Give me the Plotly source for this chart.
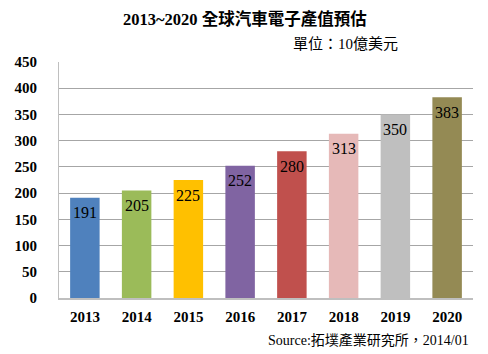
import plotly.graph_objects as go

years = ["2013", "2014", "2015", "2016", "2017", "2018", "2019", "2020"]
values = [191, 205, 225, 252, 280, 313, 350, 383]
colors = ["#4F81BD", "#9BBB59", "#FFC000", "#8064A2", "#C0504D", "#E6B9B8", "#BFBFBF", "#948A54"]
yticks = [0, 50, 100, 150, 200, 250, 300, 350, 400, 450]

serif = "Liberation Serif, Times New Roman, Noto Sans CJK TC, serif"

fig = go.Figure()
fig.add_trace(go.Bar(
    x=years, y=values,
    marker=dict(color=colors, line=dict(width=0)),
    width=0.57,
    cliponaxis=False,
))

for i, v in enumerate(values):
    fig.add_annotation(x=i, y=v, xref="x", yref="y", text=str(v), showarrow=False,
                       yanchor="middle", xanchor="center", yshift=-15,
                       font=dict(family=serif, size=16, color="black"))

fig.update_layout(
    width=488, height=354,
    margin=dict(l=59, r=15, t=62, b=56),
    paper_bgcolor="white",
    plot_bgcolor="white",
    showlegend=False,
    xaxis=dict(
        type="category",
        categoryorder="array", categoryarray=years,
        range=[-0.5, len(years) - 0.5],
        showgrid=False,
        showline=True, linecolor="#BFBFBF", linewidth=2,
        tickfont=dict(family=serif, size=15, color="black", weight="bold"),
        ticks="", ticklabelstandoff=4,
    ),
    yaxis=dict(
        range=[0, 450],
        tickvals=yticks,
        showgrid=True, gridcolor="#A6A6A6", gridwidth=1,
        showline=True, linecolor="#BFBFBF", linewidth=1,
        zeroline=False,
        tickfont=dict(family=serif, size=15, color="black", weight="bold"),
        ticks="", ticklabelstandoff=18,
    ),
)

pw = 488 - 59 - 15
ph = 354 - 62 - 56
def px(xp):
    return (xp - 59) / pw
def py(yp):
    return (354 - 56 - yp) / ph

fig.add_annotation(text="<b>2013~2020 全球汽車電子產值預估</b>", x=px(245), y=py(19),
                   xref="paper", yref="paper", showarrow=False, xanchor="center", yanchor="middle",
                   font=dict(family=serif, size=16.5, color="black"))
fig.add_annotation(text="單位：10億美元", x=px(400), y=py(44),
                   xref="paper", yref="paper", showarrow=False, xanchor="right", yanchor="middle",
                   font=dict(family=serif, size=15, color="black"))
fig.add_annotation(text="Source:拓墣產業研究所，2014/01", x=px(471), y=py(340),
                   xref="paper", yref="paper", showarrow=False, xanchor="right", yanchor="middle",
                   font=dict(family=serif, size=14, color="black"))

fig.write_html("out.html")
